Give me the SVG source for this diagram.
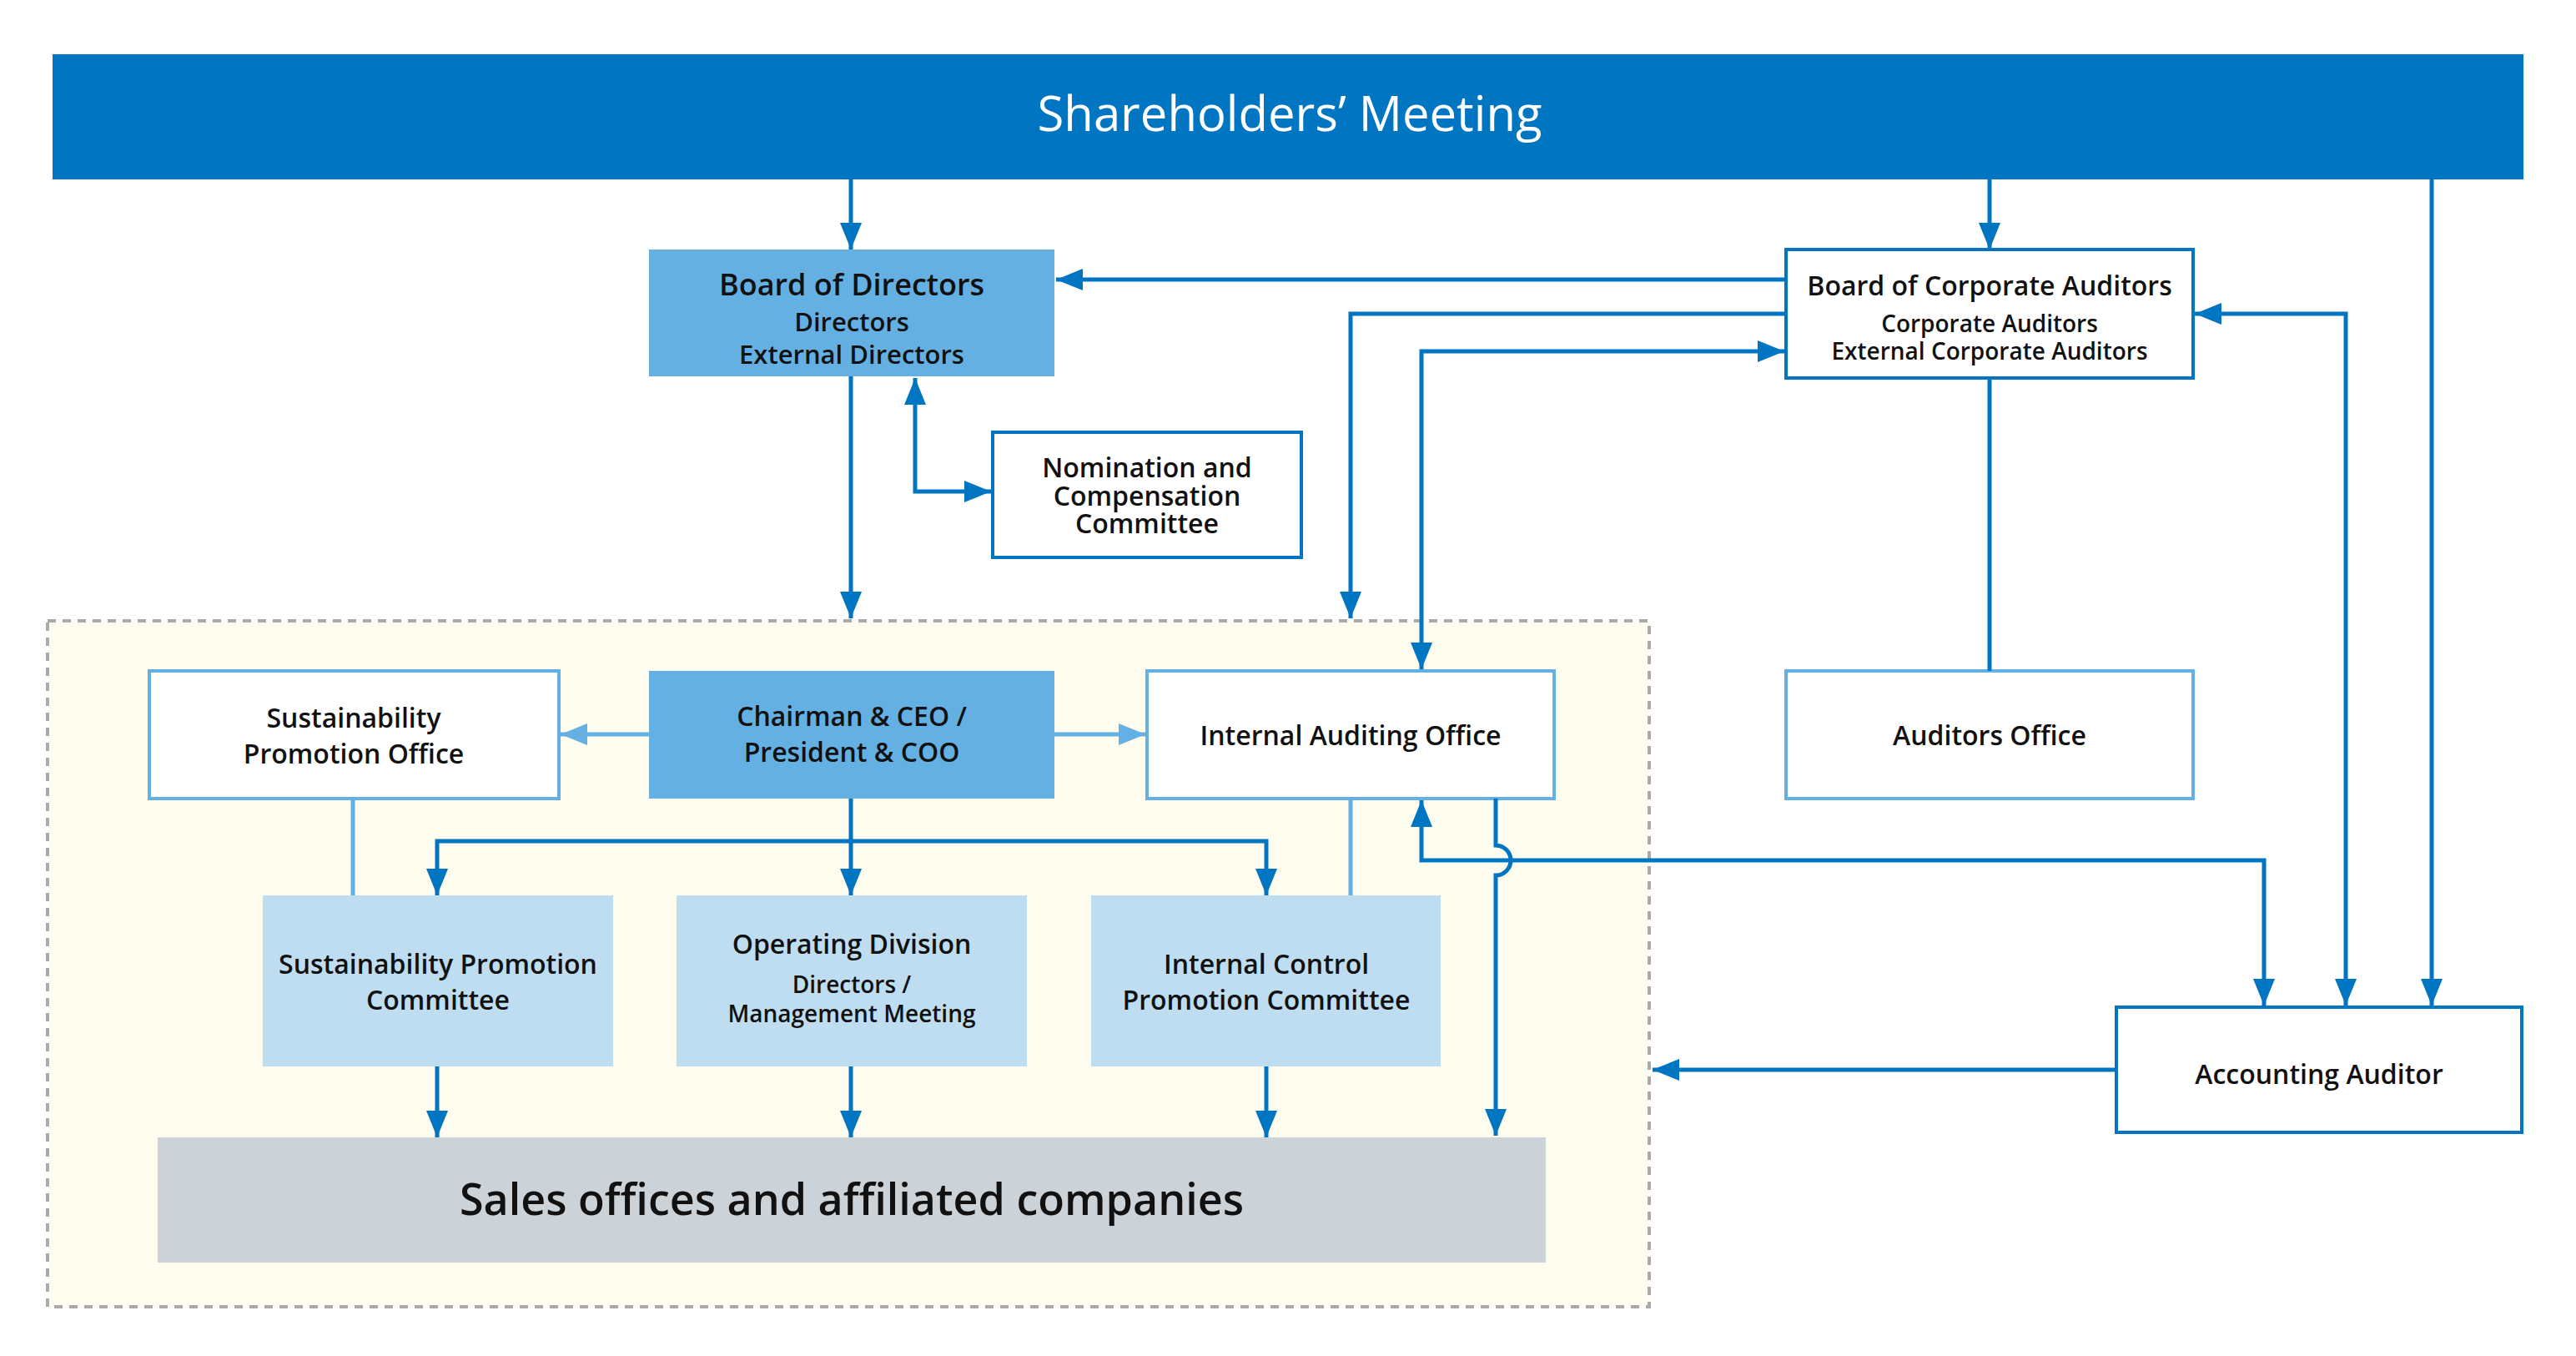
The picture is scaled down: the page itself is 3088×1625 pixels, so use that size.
<svg xmlns="http://www.w3.org/2000/svg" width="3088" height="1625" viewBox="0 0 3088 1625">
<style>
text{font-family:"Open Sans","Noto Sans","Liberation Sans",sans-serif;fill:#111;text-anchor:middle;font-weight:600}
.t{font-size:32px}
.s{font-size:28px}
.c{fill:none;stroke:#0075C2;stroke-width:5}
.cl{fill:none;stroke:#64B0E3;stroke-width:5}
.bw{fill:#fff;stroke:#0075C2;stroke-width:4}
.bl{fill:#fff;stroke:#64B0E3;stroke-width:4}
</style>
<defs>
<marker id="a" markerUnits="userSpaceOnUse" markerWidth="34" markerHeight="28" refX="32" refY="13" orient="auto-start-reverse" overflow="visible"><path d="M0 0 L32 13 L0 26 Z" fill="#0075C2"/></marker>
<marker id="al" markerUnits="userSpaceOnUse" markerWidth="34" markerHeight="28" refX="32" refY="13" orient="auto-start-reverse" overflow="visible"><path d="M0 0 L32 13 L0 26 Z" fill="#64B0E3"/></marker>
</defs>
<rect width="3088" height="1625" fill="#fff"/>
<g id="container"><rect x="57" y="744" width="1920" height="822" fill="#FEFCEE" stroke="#AAAAAA" stroke-width="4" stroke-dasharray="10 8"/></g>
<g id="shareholders"><rect x="63" y="65" width="2962" height="150" fill="#0075C2"/><text x="1546" y="157" style="font-size:58px;fill:#fff;font-weight:400">Shareholders’ Meeting</text></g>
<g id="board-directors"><rect x="778" y="299" width="486" height="152" fill="#64B0E3"/><text x="1021" y="354" style="font-size:36px">Board of Directors</text><text x="1021" y="397" style="font-size:31px">Directors</text><text x="1021" y="436" style="font-size:31px">External Directors</text></g>
<g id="board-auditors"><rect x="2141" y="299" width="488" height="154" class="bw"/><text x="2385" y="354" class="t">Board of Corporate Auditors</text><text x="2385" y="398" class="s">Corporate Auditors</text><text x="2385" y="431" class="s">External Corporate Auditors</text></g>
<g id="nomination"><rect x="1190" y="518" width="370" height="150" class="bw"/><text x="1375" y="572" class="t">Nomination and</text><text x="1375" y="606" class="t">Compensation</text><text x="1375" y="639" class="t">Committee</text></g>
<g id="sust-office"><rect x="179" y="804" width="491" height="153" class="bl"/><text x="424" y="872" class="t">Sustainability</text><text x="424" y="915" class="t">Promotion Office</text></g>
<g id="chairman"><rect x="778" y="804" width="486" height="153" fill="#64B0E3"/><text x="1021" y="870" class="t">Chairman &amp; CEO /</text><text x="1021" y="913" class="t">President &amp; COO</text></g>
<g id="internal-auditing"><rect x="1375" y="804" width="488" height="153" class="bl"/><text x="1619" y="893" class="t">Internal Auditing Office</text></g>
<g id="auditors-office"><rect x="2141" y="804" width="488" height="153" class="bl"/><text x="2385" y="893" class="t">Auditors Office</text></g>
<g id="sust-committee"><rect x="315" y="1073" width="420" height="205" fill="#BFDDF1"/><text x="525" y="1167" class="t">Sustainability Promotion</text><text x="525" y="1210" class="t">Committee</text></g>
<g id="operating"><rect x="811" y="1073" width="420" height="205" fill="#BFDDF1"/><text x="1021" y="1143" class="t">Operating Division</text><text x="1021" y="1190" class="s">Directors /</text><text x="1021" y="1225" class="s">Management Meeting</text></g>
<g id="internal-control"><rect x="1308" y="1073" width="419" height="205" fill="#BFDDF1"/><text x="1518" y="1167" class="t">Internal Control</text><text x="1518" y="1210" class="t">Promotion Committee</text></g>
<g id="sales"><rect x="189" y="1363" width="1664" height="150" fill="#CBD3D8"/><text x="1021" y="1456" style="font-size:52px">Sales offices and affiliated companies</text></g>
<g id="accounting"><rect x="2537" y="1207" width="486" height="150" class="bw"/><text x="2780" y="1299" class="t">Accounting Auditor</text></g>
<g id="connectors">
<path class="c" d="M1020 215 V299" marker-end="url(#a)"/>
<path class="c" d="M2385 215 V299" marker-end="url(#a)"/>
<path class="c" d="M2915 215 V1205" marker-end="url(#a)"/>
<path class="c" d="M2141 335 H1266" marker-end="url(#a)"/>
<path class="c" d="M2141 376 H1619 V741" marker-end="url(#a)"/>
<path class="c" d="M1704 802 V421 H2139" marker-start="url(#a)" marker-end="url(#a)"/>
<path class="c" d="M1020 451 V741" marker-end="url(#a)"/>
<path class="c" d="M1097 453 V589 H1188" marker-start="url(#a)" marker-end="url(#a)"/>
<path class="c" d="M2385 453 V804"/>
<path class="c" d="M2631 376 H2812 V1205" marker-start="url(#a)" marker-end="url(#a)"/>
<path class="c" d="M1704 959 V1031 H2714 V1205" marker-start="url(#a)" marker-end="url(#a)"/>
<path class="c" d="M1793 957 V1013 A18 18 0 0 1 1793 1049 V1361" marker-end="url(#a)"/>
<path class="c" d="M2537 1282 H1981" marker-end="url(#a)"/>
<path class="cl" d="M778 880 H672" marker-end="url(#al)"/>
<path class="cl" d="M1264 880 H1373" marker-end="url(#al)"/>
<path class="c" d="M1020 957 V1073" marker-end="url(#a)"/>
<path class="c" d="M524 1073 V1008 H1518 V1073" marker-start="url(#a)" marker-end="url(#a)"/>
<path class="cl" d="M423 957 V1073"/>
<path class="cl" d="M1619 957 V1073"/>
<path class="c" d="M524 1278 V1363" marker-end="url(#a)"/>
<path class="c" d="M1020 1278 V1363" marker-end="url(#a)"/>
<path class="c" d="M1518 1278 V1363" marker-end="url(#a)"/>
</g>
</svg>
